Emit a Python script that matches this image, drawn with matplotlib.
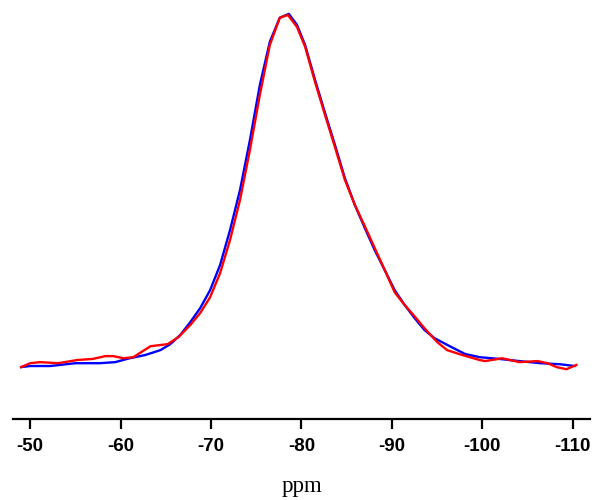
import matplotlib
matplotlib.use("Agg")
import matplotlib.pyplot as plt

blue_ppm = [-49.0, -50.0, -52.2, -55.0, -57.7, -59.4, -61.0, -62.7, -64.4, -65.5, -66.6, -67.7,
            -68.8, -69.9, -71.0, -72.1, -73.2, -74.3, -75.4, -76.5, -77.6, -78.6, -79.5, -80.4,
            -81.5, -82.6, -83.7, -84.8, -85.9, -87.0, -88.1, -89.2, -90.3, -91.4, -92.5, -93.6,
            -94.7, -96.4, -98.1, -99.7, -101.9, -104.1, -106.4, -108.6, -110.2]
blue_int = [0.000, 0.003, 0.003, 0.011, 0.011, 0.014, 0.025, 0.034, 0.048, 0.065, 0.091, 0.127,
            0.167, 0.218, 0.289, 0.388, 0.501, 0.643, 0.799, 0.921, 0.989, 1.000, 0.969, 0.912,
            0.813, 0.720, 0.629, 0.535, 0.459, 0.394, 0.331, 0.275, 0.218, 0.176, 0.139, 0.105,
            0.082, 0.059, 0.037, 0.028, 0.023, 0.017, 0.011, 0.008, 0.003]

red_ppm = [-49.0, -50.0, -51.1, -53.1, -55.2, -56.9, -58.3, -59.2, -60.3, -61.4, -63.3, -65.2,
           -66.4, -67.7, -68.8, -69.9, -71.0, -72.1, -73.2, -74.3, -75.4, -76.5, -77.6, -78.5,
           -79.5, -80.4, -81.5, -82.6, -83.7, -84.8, -85.9, -87.0, -88.1, -89.2, -90.3, -91.4,
           -92.5, -93.6, -95.0, -96.1, -97.8, -99.7, -100.3, -102.2, -104.1, -106.1, -107.2,
           -108.2, -109.3, -110.4]
red_int = [0.000, 0.011, 0.014, 0.011, 0.020, 0.023, 0.031, 0.031, 0.025, 0.028, 0.059, 0.065,
           0.085, 0.119, 0.153, 0.198, 0.266, 0.360, 0.473, 0.615, 0.771, 0.912, 0.989, 0.997,
           0.963, 0.907, 0.807, 0.714, 0.623, 0.530, 0.459, 0.399, 0.337, 0.275, 0.212, 0.176,
           0.144, 0.110, 0.071, 0.048, 0.034, 0.020, 0.017, 0.025, 0.014, 0.017, 0.011,
           0.000, -0.006, 0.006]

ticks = [-50, -60, -70, -80, -90, -100, -110]
tick_labels = ["-50", "-60", "-70", "-80", "-90", "-100", "-110"]

fig = plt.figure(figsize=(6.02, 5.0), dpi=100)
ax = fig.add_axes([0.0216, 0.162, 0.9584, 0.818])
ax.plot(blue_ppm, blue_int, color="#0000ff", lw=1.7)
ax.plot(red_ppm, red_int, color="#ff0000", lw=1.7)
ax.set_xlim(-48.1, -111.9)
ax.set_ylim(-0.147, 1.011)
for s in ["top", "right", "left"]:
    ax.spines[s].set_visible(False)
ax.spines["bottom"].set_linewidth(1.6)
ax.set_yticks([])
ax.set_xticks(ticks)
ax.set_xticklabels(tick_labels, fontfamily="Liberation Sans", fontweight="bold", fontsize=13.5)
ax.tick_params(axis="x", length=7, width=1.6, pad=7)
ax.set_xlabel("ppm", fontfamily="Liberation Serif", fontsize=16.5, labelpad=15)
fig.savefig("out.png", dpi=100)
